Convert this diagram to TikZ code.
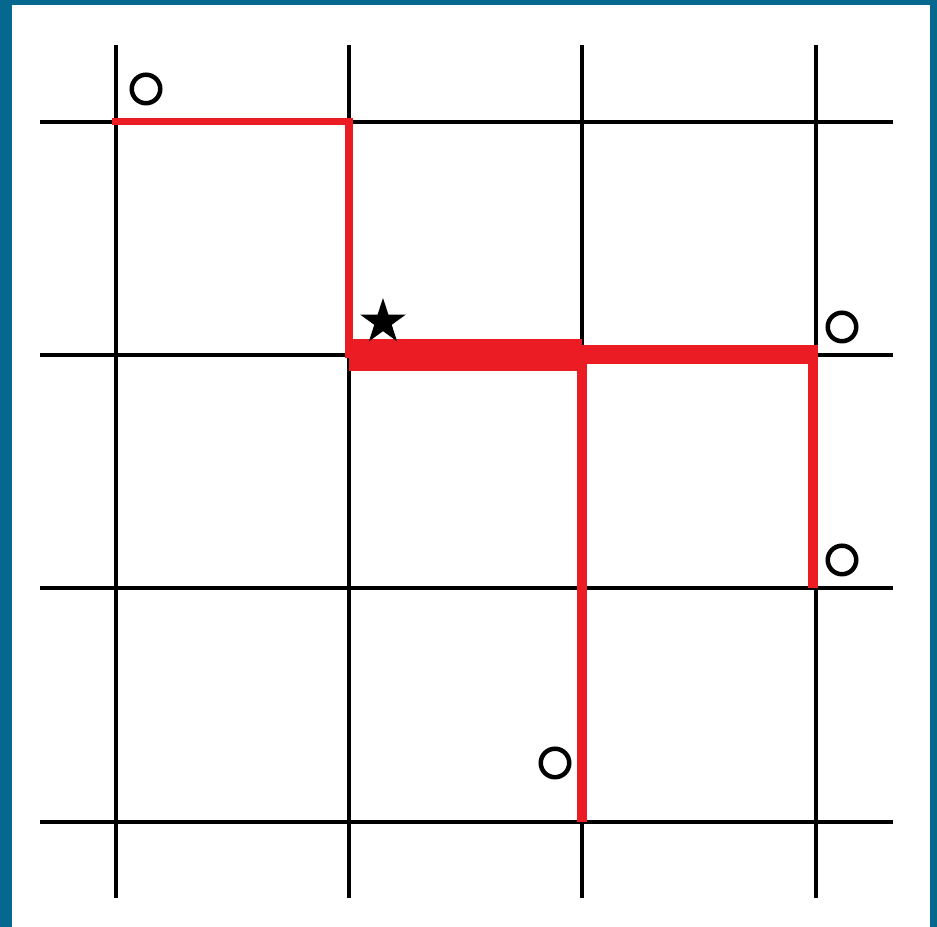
\documentclass[tikz,border=0pt]{standalone}
\usepackage{xcolor}
\usepackage{tikz}
\usetikzlibrary{arrows.meta,positioning,calc,shapes.geometric}
\definecolor{frameblue}{HTML}{06688E}
\definecolor{pathred}{HTML}{EC1C24}

\begin{document}
\begin{tikzpicture}[
  gridline/.style={draw, line width=0.04cm, black},
  redthin/.style={draw, line width=0.07cm, pathred, line cap=rect, line join=miter},
  redbold/.style={draw, line width=0.32cm, pathred},
  redmid/.style={draw, line width=0.19cm, pathred},
  redleg/.style={draw, line width=0.10cm, pathred},
  site/.style={draw, circle, line width=0.045cm, minimum size=0.285cm, inner sep=0pt},
  hub/.style={star, star points=5, star point ratio=2.618, fill=black, minimum size=0.48cm, inner sep=0pt}
]
  % frame and paper
  \fill[frameblue] (0,0) rectangle (9.37,9.27);
  \fill[white] (0.12,0) rectangle (9.30,9.22);
  \useasboundingbox (0,0) rectangle (9.37,9.27);

  % grid
  \draw[gridline] (1.16,0.29) -- (1.16,8.82);
  \draw[gridline] (3.49,0.29) -- (3.49,8.82);
  \draw[gridline] (5.82,0.29) -- (5.82,8.82);
  \draw[gridline] (8.16,0.29) -- (8.16,8.82);
  \draw[gridline] (0.40,8.05) -- (8.93,8.05);
  \draw[gridline] (0.40,5.72) -- (8.93,5.72);
  \draw[gridline] (0.40,3.39) -- (8.93,3.39);
  \draw[gridline] (0.40,1.05) -- (8.93,1.05);

  % crossings on the route
  \coordinate (a1) at (1.16,8.05);
  \coordinate (b1) at (3.49,8.05);
  \coordinate (b2) at (3.49,5.72);
  \coordinate (c2) at (5.82,5.72);
  \coordinate (d2) at (8.13,5.72);
  \coordinate (d3) at (8.13,3.39);
  \coordinate (c4) at (5.82,1.05);

  % red route
  \draw[redthin] (a1) -- (b1) -- (b2);
  \draw[redleg] (c2) -- (c4);
  \draw[redleg] ([yshift=0.05cm]d2) -- (d3);
  \draw[redmid] (c2) -- ([xshift=0.05cm]d2);
  \draw[redbold] (b2) -- (c2);

  % markers
  \node[site] (s1) at (1.46,8.38) {};
  \node[site] (s2) at (8.42,6.00) {};
  \node[site] (s3) at (8.42,3.67) {};
  \node[site] (s4) at (5.55,1.64) {};
  \node[hub] (root) at (3.83,6.05) {};
\end{tikzpicture}
\end{document}
